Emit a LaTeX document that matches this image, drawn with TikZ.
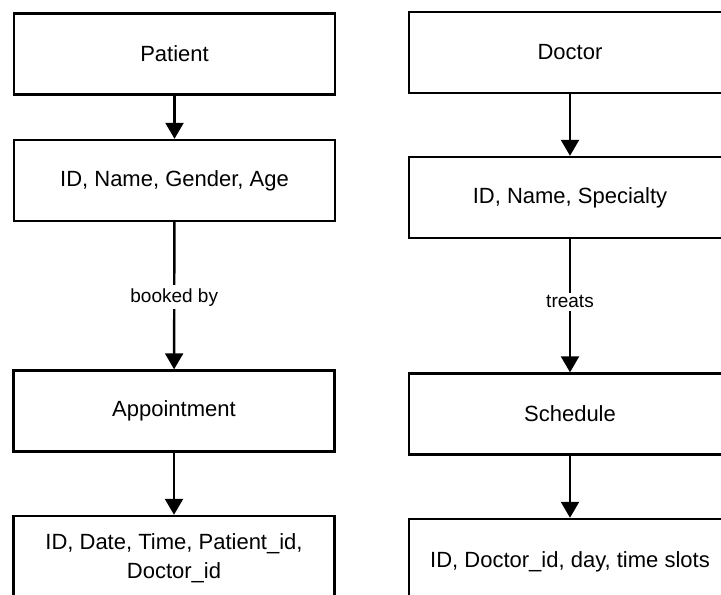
\documentclass[tikz,border=0pt]{standalone}
\usepackage{fontspec}
\setmainfont{Liberation Sans}
\usetikzlibrary{arrows.meta}
\begin{document}
\begin{tikzpicture}[x=1pt,y=-1pt,
  entity/.style={draw=black, line width=2.4pt, fill=white, inner sep=0pt,
    minimum height=81pt, align=center, font=\fontsize{22}{29}\selectfont},
  leftbox/.style={entity, minimum width=321pt},
  rightbox/.style={entity, minimum width=322pt},
  link/.style={draw=black, line width=2.4pt,
    -{Triangle[width=18pt,length=16pt]}},
  linklabel/.style={fill=white, inner sep=3pt, font=\fontsize{19}{22}\selectfont}]
\useasboundingbox (0,0) rectangle (721,595);
\begin{scope}
\clip (0,0) rectangle (721,595);
% Patient side
\node[leftbox] (patient) at (174.5,54) {Patient};
\node[leftbox] (pattr) at (174.5,180.5) {ID, Name, Gender, Age};
\node[leftbox] (appt) at (174,411) {Appointment};
\node[leftbox, minimum height=84pt] (apattr) at (174,558) {ID, Date, Time, Patient\_id,\\Doctor\_id};
% Doctor side
\node[rightbox] (doctor) at (570,52.5) {Doctor};
\node[rightbox] (docattr) at (570,197.5) {ID, Name, Specialty};
\node[rightbox] (sched) at (570,414) {Schedule};
\node[rightbox, minimum height=86pt] (schattr) at (570,562) {ID, Doctor\_id, day, time slots};
% Connectors
\draw[link] (patient) -- (pattr);
\draw[link] (pattr) -- node[linklabel, pos=0.51] {booked by} (appt);
\draw[link] (appt) -- (apattr);
\draw[link] (doctor) -- (docattr);
\draw[link] (docattr) -- node[linklabel, pos=0.47] {treats} (sched);
\draw[link] (sched) -- (schattr);
\end{scope}
\end{tikzpicture}
\end{document}
